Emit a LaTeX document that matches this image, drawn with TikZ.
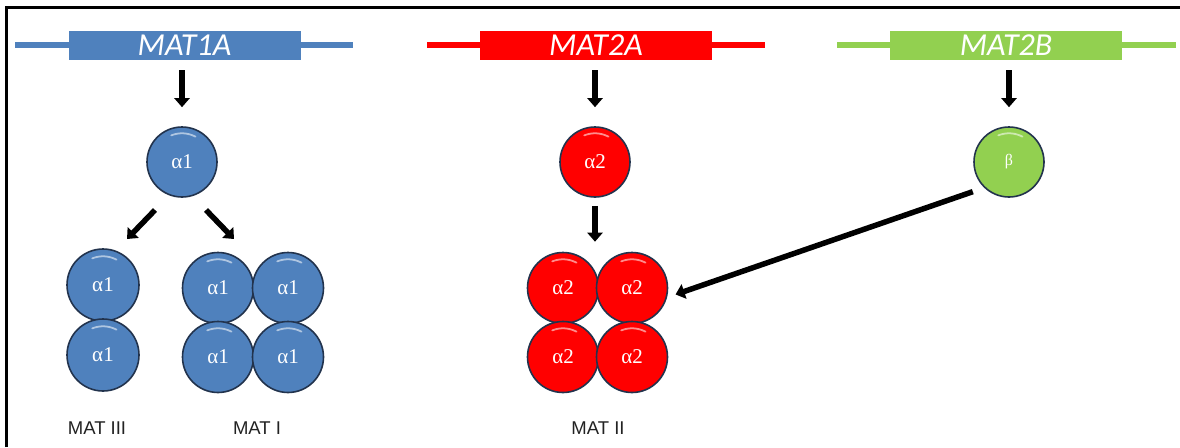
\documentclass[tikz,border=0pt]{standalone}
\usepackage{fontspec}
\setmainfont{Liberation Serif}
\newfontfamily\genefont{Carlito}
\newfontfamily\labfont{Liberation Sans}
\usetikzlibrary{arrows.meta,calc}
\definecolor{mblue}{HTML}{4F81BD}
\definecolor{mred}{HTML}{FF0000}
\definecolor{mgreen}{HTML}{92D050}
\definecolor{rim}{HTML}{22334D}
\definecolor{labgray}{HTML}{222222}
\tikzset{
  ball/.style={circle, draw=rim, line width=1.6pt, minimum size=#1, inner sep=0pt,
    text=white, font=\fontsize{21}{21}\selectfont,
    path picture={
      \draw[white, opacity=0.55, line width=1.8pt, line cap=round]
        ($(path picture bounding box.center)+(112:0.41*#1)$) arc (112:62:0.41*#1);
    }},
  bball/.style={ball=70pt, fill=mblue},
  rball/.style={ball=70pt, fill=mred},
  gball/.style={ball=70pt, fill=mgreen},
  genebox/.style={fill=#1, minimum width=232pt, minimum height=29pt, inner sep=0pt,
    text=white, font=\genefont\itshape\fontsize{32}{32}\selectfont},
  geneline/.style={draw=#1, line width=5.5pt},
  bigarrow/.style={draw=black, line width=5.5pt,
    -{Triangle[width=15pt,length=9pt]}},
  matlab/.style={text=labgray, font=\labfont\fontsize{18.5}{18.5}\selectfont},
}
\begin{document}
\begin{tikzpicture}[x=1pt,y=-1pt]
\useasboundingbox (0,0) rectangle (1180,447);
% frame
\draw[line width=3pt] (6,447) -- (6,7) -- (1180,7);

% genes
\draw[geneline=mblue] (15,45) -- (353,45);
\node[genebox=mblue] (g1) at (184.5,45.5) {MAT1A};
\draw[geneline=mred] (427,45) -- (765,45);
\node[genebox=mred] (g2) at (596,45.5) {MAT2A};
\draw[geneline=mgreen] (837,45) -- (1176,45);
\node[genebox=mgreen] (g3) at (1006,45.5) {MAT2B};

% monomers
\node[bball] (a1) at (182,162) {α1};
\node[rball] (a2) at (595,162) {α2};
\node[gball] (b) at (1009,162) {\fontsize{16}{16}\selectfont β};

% MAT III (dimer)
\node[bball, minimum size=72pt] (m3a) at (103,285) {α1};
\node[bball, minimum size=72pt] (m3b) at (103,355) {α1};
% MAT I (tetramer)
\node[bball, minimum size=71pt] (m1a) at (218,288) {α1};
\node[bball, minimum size=71pt] (m1b) at (288,288) {α1};
\node[bball, minimum size=71pt] (m1c) at (218,357) {α1};
\node[bball, minimum size=71pt] (m1d) at (288,357) {α1};
% MAT II (tetramer)
\node[rball, minimum size=71pt] (q1) at (563,288) {α2};
\node[rball, minimum size=71pt] (q2) at (632,288) {α2};
\node[rball, minimum size=71pt] (q3) at (563,357) {α2};
\node[rball, minimum size=71pt] (q4) at (632,357) {α2};

% labels
\node[matlab] (l3) at (97,428) {MAT III};
\node[matlab] (l1) at (257,428) {MAT I};
\node[matlab] (l2) at (598,428) {MAT II};

% arrows
\draw[bigarrow, shorten <=10pt, shorten >=19pt] (g1.south -| a1.north) -- (a1.north);
\draw[bigarrow, shorten <=10pt, shorten >=19pt] (g2.south -| a2.north) -- (a2.north);
\draw[bigarrow, shorten <=10pt, shorten >=19pt] (g3.south -| b.north) -- (b.north);

\coordinate (dl1) at (155,210);
\coordinate (dl2) at (127,239);
\coordinate (dr1) at (206,210);
\coordinate (dr2) at (234,239);
\draw[bigarrow] (dl1) -- (dl2);
\draw[bigarrow] (dr1) -- (dr2);

\draw[bigarrow, shorten <=8pt, shorten >=10pt] (a2.south) -- (a2.south |- q1.north);

\draw[bigarrow, shorten <=12pt, shorten >=9pt] (b.226) -- (q2.-15);
\end{tikzpicture}
\end{document}
